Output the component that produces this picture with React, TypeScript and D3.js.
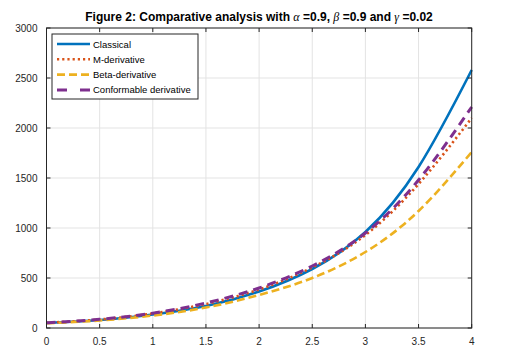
import { useEffect, useRef } from 'react'
import * as d3 from 'd3'

// valores (passo 0.5)
const tValues = [0, 0.5, 1, 1.5, 2, 2.5, 3, 3.5, 4]
const classical = [50, 80, 135, 220, 365, 590, 960, 1610, 2580]
const mDerivative = [52, 85, 145, 240, 385, 605, 930, 1440, 2100]
const betaDerivative = [48, 75, 125, 205, 330, 500, 760, 1170, 1760]
const conformable = [52, 87, 148, 250, 400, 620, 950, 1480, 2210]

const xTicks = [0, 0.5, 1, 1.5, 2, 2.5, 3, 3.5, 4]
const yTicks = [0, 500, 1000, 1500, 2000, 2500, 3000]

const seriesList = [
  { name: 'Classical', values: classical, color: '#0072BD', width: 2.6, dash: null },
  { name: 'M-derivative', values: mDerivative, color: '#D95319', width: 2.6, dash: '2.2 3' },
  { name: 'Beta-derivative', values: betaDerivative, color: '#EDB120', width: 2.6, dash: '8 4' },
  { name: 'Conformable derivative', values: conformable, color: '#7E2F8E', width: 3, dash: '9 6' }
]

function App() {
  const svgRef = useRef<SVGSVGElement>(null)

  useEffect(() => {
    const svg = d3.select(svgRef.current)
    svg.selectAll('*').remove()

    const left = 46.5, right = 471.7, top = 28, bottom = 328
    const x = d3.scaleLinear().domain([0, 4]).range([left, right])
    const y = d3.scaleLinear().domain([0, 3000]).range([bottom, top])
    const axisColor = '#262626'
    const font = 'Liberation Sans, Arial, sans-serif'

    svg.append('rect').attr('width', 508).attr('height', 363).attr('fill', '#fff')

    // grade
    const grid = svg.append('g').attr('stroke', '#e3e3e3').attr('stroke-width', 1)
    xTicks.forEach(t => {
      grid.append('line').attr('x1', x(t)).attr('x2', x(t)).attr('y1', top).attr('y2', bottom)
    })
    yTicks.forEach(v => {
      grid.append('line').attr('x1', left).attr('x2', right).attr('y1', y(v)).attr('y2', y(v))
    })

    // curvas
    const line = d3.line<number>()
      .x((d, i) => x(tValues[i]))
      .y(d => y(d))
      .curve(d3.curveNatural)

    const plot = svg.append('g')
    seriesList.forEach(s => {
      const p = plot.append('path')
        .attr('d', line(s.values))
        .attr('fill', 'none')
        .attr('stroke', s.color)
        .attr('stroke-width', s.width)
      if (s.dash) p.attr('stroke-dasharray', s.dash)
    })

    // caixa dos eixos
    svg.append('rect')
      .attr('x', left).attr('y', top)
      .attr('width', right - left).attr('height', bottom - top)
      .attr('fill', 'none').attr('stroke', axisColor).attr('stroke-width', 1)

    const ticks = svg.append('g').attr('stroke', axisColor).attr('stroke-width', 1)
    xTicks.forEach(t => {
      ticks.append('line').attr('x1', x(t)).attr('x2', x(t)).attr('y1', bottom).attr('y2', bottom - 4)
      ticks.append('line').attr('x1', x(t)).attr('x2', x(t)).attr('y1', top).attr('y2', top + 4)
    })
    yTicks.forEach(v => {
      ticks.append('line').attr('x1', left).attr('x2', left + 4).attr('y1', y(v)).attr('y2', y(v))
      ticks.append('line').attr('x1', right).attr('x2', right - 4).attr('y1', y(v)).attr('y2', y(v))
    })

    // rótulos
    svg.append('g').selectAll('text').data(xTicks).enter().append('text')
      .attr('x', d => x(d)).attr('y', bottom + 17)
      .attr('text-anchor', 'middle')
      .attr('font-family', font).attr('font-size', 10).attr('fill', axisColor)
      .text(d => String(d))

    svg.append('g').selectAll('text').data(yTicks).enter().append('text')
      .attr('x', left - 9).attr('y', d => y(d) + 3.5)
      .attr('text-anchor', 'end')
      .attr('font-family', font).attr('font-size', 10).attr('fill', axisColor)
      .text(d => String(d))

    // título
    const title = svg.append('text')
      .attr('x', 259).attr('y', 21)
      .attr('text-anchor', 'middle')
      .attr('font-family', font).attr('font-size', 12).attr('font-weight', 'bold')
      .attr('fill', '#000')
    const greek = 'Liberation Serif, Times New Roman, serif'
    title.append('tspan').text('Figure 2: Comparative analysis with ')
    title.append('tspan').attr('font-family', greek).attr('font-style', 'italic').attr('font-weight', 'normal').text('α')
    title.append('tspan').text(' =0.9, ')
    title.append('tspan').attr('font-family', greek).attr('font-style', 'italic').attr('font-weight', 'normal').text('β')
    title.append('tspan').text(' =0.9 and ')
    title.append('tspan').attr('font-family', greek).attr('font-style', 'italic').attr('font-weight', 'normal').text('γ')
    title.append('tspan').text(' =0.02')

    // legenda
    const legend = svg.append('g').attr('transform', 'translate(52, 34)')
    legend.append('rect')
      .attr('width', 146).attr('height', 65)
      .attr('fill', '#fff').attr('stroke', axisColor).attr('stroke-width', 1)

    const items = legend.selectAll('.legend-item')
      .data(seriesList)
      .enter()
      .append('g')
      .attr('transform', (d, i) => `translate(0, ${10 + i * 15.3})`)

    items.append('line')
      .attr('x1', 5).attr('x2', 38)
      .attr('stroke', d => d.color)
      .attr('stroke-width', d => d.width)
      .attr('stroke-dasharray', d => d.name === 'Conformable derivative' ? '10 13' : d.dash)

    items.append('text')
      .attr('x', 41).attr('y', 3.5)
      .attr('font-family', font).attr('font-size', 9.5).attr('fill', '#000')
      .text(d => d.name)
  }, [])

  return (
    <svg ref={svgRef} width={508} height={363}
      style={{ position: 'absolute', left: 0, top: 0, display: 'block' }} />
  )
}

export default App
